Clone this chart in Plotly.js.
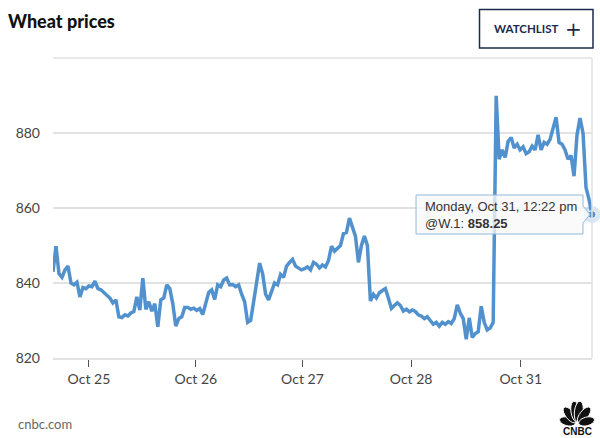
<!DOCTYPE html>
<html>
<head>
<meta charset="utf-8">
<script src="https://cdn.plot.ly/plotly-3.0.1.min.js"></script>
<style>
  html, body { margin: 0; padding: 0; background: #fff; }
  #chart { width: 600px; height: 438px; }
</style>
</head>
<body>
<div id="chart"></div>
<script>
// @W.1 wheat futures, one reading per step of trading time (Oct 24 night .. Oct 31 12:22 pm)
const prices = [
    843, 849.8, 842.5, 841.5, 843.5, 844.5, 840, 839.5, 840.2, 836.3,
    838.8, 838.5, 839.2, 839, 840.5, 838.5, 838.2, 837.5, 836.8, 836,
    834.7, 835.5, 831, 830.8, 831.5, 831.2, 832, 832.4, 836.3, 832.8,
    841.3, 833, 835, 832.5, 834.5, 828.3, 835.5, 836, 839.5, 838.5,
    834.5, 828.5, 830.5, 831, 833.5, 833.5, 833, 833.3, 832.7, 833.2,
    831.6, 834.5, 837.5, 838.2, 835.6, 839.5, 839, 840.8, 841.3, 839.5,
    839.6, 839, 839.5, 837, 835, 829.5, 830, 835, 840, 845.3,
    842.5, 837, 835.5, 837.5, 840, 839.5, 842.3, 841.5, 844.5, 845.5,
    846.3, 844.5, 844, 843.5, 843.8, 844.3, 843.5, 845.5, 845, 844,
    844.8, 844.3, 846, 849.8, 848.5, 849.3, 850, 853.2, 853.5, 857.3,
    855, 852.5, 845.5, 850, 852.5, 850, 835.2, 837, 836, 837.4,
    838, 838.5, 836, 833.2, 834, 834.7, 834, 832.5, 833, 832.3,
    832.8, 832.4, 831.5, 831.2, 830.5, 831, 830, 829, 829.5, 828.5,
    829.5, 829, 829.7, 829.2, 830.5, 834.2, 832, 830.5, 825, 830.7,
    825.5, 826.5, 827, 833.8, 829.5, 827.5, 828, 829.5, 889.9, 873,
    875.5, 873.5, 877.8, 878.8, 876, 877, 875.5, 876.3, 874.5, 875,
    876.5, 875.5, 879.5, 875.5, 877.5, 877, 878.3, 881.5, 884.2, 877.5,
    877, 875.5, 873, 874, 868.5, 879.5, 884, 880, 865.5, 862.3,
    858.25
];
const steps = prices.map((p, i) => i);

// session starts shown on the axis
const dayLabels = ['Oct 25', 'Oct 26', 'Oct 27', 'Oct 28', 'Oct 31'];
const dayTicks = [12, 47.7, 83.3, 119.6, 156.2];
const yTicks = [820, 840, 860, 880];

const lastLabel = 'Monday, Oct 31, 12:22 pm';
const symbol = '@W.1';

// plot box in pixels
const L = 53, R = 8, T = 58, B = 80;
const W = 600 - L - R, H = 438 - T - B;
const px = x => (x - L) / W;
const py = y => (T + H - y) / H;

function pathOf(pts) {
    return 'M ' + pts.map(p => px(p[0]).toFixed(4) + ',' + py(p[1]).toFixed(4)).join(' L ') + ' Z';
}

// peacock feathers for the logo
function feather(cx, cy, deg, len, w) {
    const a = deg * Math.PI / 180;
    const dx = Math.cos(a), dy = -Math.sin(a);
    const mx = cx + dx * len * 0.55, my = cy + dy * len * 0.55;
    const pts = [];
    for (let k = 0; k < 20; k++) {
        const t = k / 20 * 2 * Math.PI;
        const u = Math.cos(t) * len * 0.45, v = Math.sin(t) * w;
        pts.push([mx + dx * u - dy * v, my + dy * u + dx * v]);
    }
    return {
        type: 'path', xref: 'paper', yref: 'paper', path: pathOf(pts),
        fillcolor: '#111', line: { color: '#fff', width: 1 }, layer: 'above'
    };
}
const feathers = [[165, 18], [128, 21], [98, 23], [82, 23], [52, 21], [15, 18]]
    .map(f => feather(577, 424, f[0], f[1], 4.3));

const lineColor = '#5191cd';

const trace1 = {
    x: steps,
    y: prices,
    type: 'scatter',
    mode: 'lines',
    line: { color: lineColor, width: 3.5 },
    hoverinfo: 'skip'
};

const n = prices.length - 1;
const halo = {
    x: [steps[n]],
    y: [prices[n]],
    type: 'scatter',
    mode: 'markers',
    marker: { size: 17, color: 'rgba(81,145,205,0.22)' },
    cliponaxis: false,
    hoverinfo: 'skip'
};
const dot = {
    x: [steps[n]],
    y: [prices[n]],
    type: 'scatter',
    mode: 'markers',
    marker: { size: 8, color: lineColor, line: { color: '#fff', width: 1 } },
    cliponaxis: false,
    hoverinfo: 'skip'
};

const layout = {
    width: 600,
    height: 438,
    margin: { l: L, r: R, t: T, b: B },
    paper_bgcolor: '#fff',
    plot_bgcolor: '#fff',
    showlegend: false,
    font: { family: 'Lato, sans-serif', color: '#444' },
    title: {
        text: 'Wheat prices',
        xref: 'container', yref: 'container',
        x: 8 / 600, xanchor: 'left',
        y: 1 - 22 / 438, yanchor: 'middle',
        font: { family: 'Lato, sans-serif', size: 18, weight: 900, color: '#111' }
    },
    xaxis: {
        range: [0, n],
        tickvals: dayTicks,
        ticktext: dayLabels,
        ticks: 'outside',
        ticklen: 7,
        tickwidth: 1,
        tickcolor: '#555',
        showgrid: false,
        zeroline: false,
        showline: true,
        linecolor: '#e2e2e2',
        linewidth: 2,
        tickfont: { size: 14, color: '#444' },
        fixedrange: true
    },
    yaxis: {
        range: [820, 900],
        tickvals: yTicks,
        showgrid: true,
        gridcolor: '#e2e2e2',
        gridwidth: 2,
        zeroline: false,
        ticks: '',
        ticklabelstandoff: 12,
        tickfont: { size: 14, color: '#444' },
        fixedrange: true
    },
    shapes: [
        // top and right border of the plot box
        { type: 'line', xref: 'paper', yref: 'paper', x0: 0, x1: 1, y0: 1, y1: 1,
          line: { color: '#e2e2e2', width: 1.5 } },
        { type: 'line', xref: 'paper', yref: 'paper', x0: 1, x1: 1, y0: 0, y1: 1,
          line: { color: '#e2e2e2', width: 1.5 } },
        // watchlist button
        { type: 'rect', xref: 'paper', yref: 'paper',
          x0: px(479.5), x1: px(593), y0: py(9.5), y1: py(48),
          line: { color: '#1b2b4b', width: 1.5 }, fillcolor: '#fff' },
        // tooltip box with its notch
        { type: 'path', xref: 'paper', yref: 'paper', layer: 'above',
          path: pathOf([[416, 195], [583, 195], [583, 206], [590, 214.5], [583, 223], [583, 234], [416, 234]]),
          fillcolor: 'rgba(248,248,248,0.78)', line: { color: '#8fbbe0', width: 1 } },
        ...feathers
    ],
    annotations: [
        { xref: 'paper', yref: 'paper', x: px(526), y: py(29), xanchor: 'center', yanchor: 'middle',
          text: '<b>WATCHLIST</b>', showarrow: false,
          font: { family: 'Lato, sans-serif', size: 11.5, color: '#1b2b4b' } },
        { xref: 'paper', yref: 'paper', x: px(573), y: py(29), xanchor: 'center', yanchor: 'middle',
          text: '+', showarrow: false,
          font: { family: 'DejaVu Sans, sans-serif', size: 20, color: '#1b2b4b' } },
        { xref: 'paper', yref: 'paper', x: px(423), y: py(215), xanchor: 'left', yanchor: 'middle',
          align: 'left', showarrow: false,
          text: lastLabel + '<br>' + symbol + ': <b>' + prices[n].toFixed(2) + '</b>',
          font: { family: 'Liberation Sans, sans-serif', size: 13, color: '#333' } },
        { xref: 'paper', yref: 'paper', x: px(16), y: py(424), xanchor: 'left', yanchor: 'middle',
          text: 'cnbc.com', showarrow: false,
          font: { family: 'Lato, sans-serif', size: 13, color: '#666' } },
        { xref: 'paper', yref: 'paper', x: px(577), y: py(431), xanchor: 'center', yanchor: 'middle',
          text: '<b>CNBC</b>', showarrow: false,
          font: { family: 'Liberation Sans, sans-serif', size: 10, color: '#111' } }
    ]
};

Plotly.newPlot('chart', [trace1, halo, dot], layout, { staticPlot: true, displayModeBar: false });
</script>
</body>
</html>
